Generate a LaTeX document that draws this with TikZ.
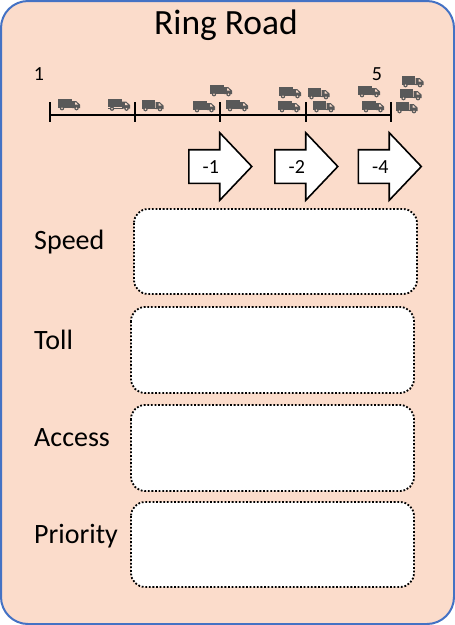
\documentclass[tikz,border=0pt]{standalone}
\usepackage{fontspec}
\setmainfont{Carlito}
\usetikzlibrary{shapes.arrows}
\definecolor{peach}{HTML}{FBDCCB}
\definecolor{frameblue}{HTML}{4472C4}
\definecolor{truckgray}{HTML}{595959}
\tikzset{
    rowlabel/.style={anchor=west, inner sep=0pt, font=\fontsize{28}{34}\selectfont},
    panel/.style={draw, fill=white, dash pattern=on 1.8pt off 1.8pt, line width=1.8pt, rounded corners=14pt},
    shift arrow/.style={draw, fill=white, line width=1.6pt, single arrow, anchor=tail, inner sep=0pt,
        minimum height=63pt, text height=22.5pt, text depth=9.5pt, single arrow head extend=17pt,
        single arrow tip angle=93, font=\fontsize{20}{24}\selectfont,
        execute at begin node={\hspace{-3pt}}},
    truck/.pic={
        \fill[truckgray] (-11,-5.5) rectangle (2.5,2.8);
        \fill[truckgray] (-11,3) rectangle (4,4.2);
        \fill[truckgray] (3,-3) -- (7,-3) -- (11,0.5) -- (11,4.2) -- (3,4.2) -- cycle;
        \fill[peach] (6,-1.6) -- (7,-1.6) -- (9,0.6) -- (6,0.6) -- cycle;
        \fill[truckgray] (-7,4.2) circle (2.2);
        \fill[truckgray] (7.5,4.2) circle (2.2);
        \fill[peach] (-7,4.2) circle (0.9);
        \fill[peach] (7.5,4.2) circle (0.9);
    }
}
\begin{document}
\begin{tikzpicture}[x=1pt, y=-1pt]
    \useasboundingbox (0,0) rectangle (455,625);
    % Cadre
    \draw[frameblue, fill=peach, line width=2pt, rounded corners=27pt] (1,1) rectangle (454,624);
    \node[font=\fontsize{35.5}{42}\selectfont] (title) at (226,25) {Ring Road};

    % Axe de la route
    \coordinate (t1) at (50,115);
    \coordinate (t2) at (135,115);
    \coordinate (t3) at (220,115);
    \coordinate (t4) at (306,115);
    \coordinate (t5) at (391,115);
    \draw[line width=1.8pt] (t1) -- (t5);
    \draw[line width=1.8pt] ([yshift=13pt]t1) -- ([yshift=-7pt]t1);
    \draw[line width=1.8pt] ([yshift=13pt]t2) -- ([yshift=-7pt]t2);
    \draw[line width=1.8pt] ([yshift=13pt]t3) -- ([yshift=-7pt]t3);
    \draw[line width=1.8pt] ([yshift=13pt]t4) -- ([yshift=-7pt]t4);
    \draw[line width=1.8pt] ([yshift=13pt]t5) -- ([yshift=-7pt]t5);
    \node[font=\fontsize{20}{24}\selectfont] (start) at (39,74) {1};
    \node[font=\fontsize{20}{24}\selectfont] (end) at (377,74) {5};

    % Camions
    \pic at (69,104) {truck};
    \pic at (119,104.5) {truck};
    \pic at (152.5,105) {truck};
    \pic at (204,106) {truck};
    \pic at (221,90) {truck};
    \pic at (237,105) {truck};
    \pic at (290,92) {truck};
    \pic at (289,106) {truck};
    \pic at (318.5,93) {truck};
    \pic at (323.5,106) {truck};
    \pic at (369,91) {truck};
    \pic at (373,106) {truck};
    \pic at (412.5,81) {truck};
    \pic at (410.5,94) {truck};
    \pic at (406.5,107) {truck};

    % Flèches
    \node[shift arrow] (drop1) at (188,166.5) {-1};
    \node[shift arrow] (drop2) at (274,166.5) {-2};
    \node[shift arrow] (drop4) at (357.5,166.5) {-4};

    % Lignes
    \node[rowlabel] (speed) at (34,242) {Speed};
    \node[rowlabel] (toll) at (34,340) {Toll};
    \node[rowlabel] (access) at (34,438) {Access};
    \node[rowlabel] (priority) at (34,536) {Priority};
    \draw[panel] (134,209) rectangle (417,294);
    \draw[panel] (131,307) rectangle (414,393);
    \draw[panel] (131,405) rectangle (414,491);
    \draw[panel] (131,502) rectangle (414,587);
\end{tikzpicture}
\end{document}
